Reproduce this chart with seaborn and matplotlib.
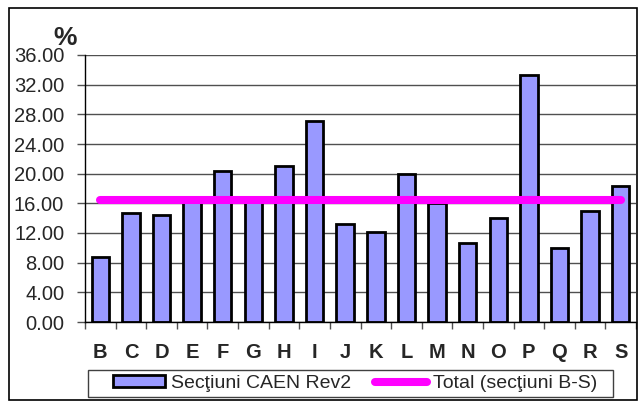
import matplotlib
matplotlib.use("Agg")
import matplotlib.pyplot as plt
import seaborn as sns
import pandas as pd
from matplotlib.patches import Rectangle, Patch
from matplotlib.lines import Line2D
from matplotlib.ticker import FormatStrFormatter

# sectiuni CAEN Rev2 si valoarea totala (%)
sectiuni = ["B", "C", "D", "E", "F", "G", "H", "I", "J", "K", "L", "M", "N", "O", "P", "Q", "R", "S"]
valori = [8.7, 14.7, 14.4, 16.3, 20.4, 16.5, 21.1, 27.1, 13.2, 12.2, 20.0, 16.1, 10.7, 14.0, 33.3, 10.0, 15.0, 18.4]
total = 16.5
yticks = [0, 4, 8, 12, 16, 20, 24, 28, 32, 36]

sns.set_theme(style="white")
plt.rcParams['font.family'] = ['Liberation Sans', 'DejaVu Sans']

df = pd.DataFrame({"sectiune": sectiuni, "valoare": valori})

fig = plt.figure(figsize=(6.38, 4.03), dpi=100)
W, H = 638, 403
ax = fig.add_axes([85 / W, 1 - 322 / H, (636 - 85) / W, (322 - 55) / H])

ax.set_axisbelow(True)
ax.yaxis.grid(True, color='#505050', linewidth=1)
sns.barplot(data=df, x="sectiune", y="valoare", color='#9999FF', saturation=1,
            edgecolor='black', linewidth=2, width=0.57, ax=ax)
ax.plot([0, len(sectiuni) - 1], [total, total], color='#FF00FF', linewidth=5.8,
        solid_capstyle='round', zorder=5)

ax.set_ylim(0, 36)
ax.set_xlim(-0.5, len(sectiuni) - 0.5)
ax.set_yticks(yticks)
ax.yaxis.set_major_formatter(FormatStrFormatter('%.2f'))
ax.set_xlabel('')
ax.set_ylabel('')
for s in ['top', 'right']:
    ax.spines[s].set_visible(False)
for s in ['left', 'bottom']:
    ax.spines[s].set_color('black')
    ax.spines[s].set_linewidth(1)

ax.tick_params(axis='y', left=True, length=6, width=1, color='#505050', labelsize=14.5, pad=9)
ax.set_xticks(range(len(sectiuni)))
ax.set_xticklabels(sectiuni, fontsize=14.5, fontweight='bold')
ax.tick_params(axis='x', bottom=False, pad=9)
# tick-uri intre categorii
ax.set_xticks([i - 0.5 for i in range(len(sectiuni) + 1)], minor=True)
ax.tick_params(axis='x', which='minor', bottom=True, length=5, width=1, color='#505050')

fig.text(53 / W, 1 - 45 / H, '%', fontsize=19, fontweight='bold', ha='left', va='baseline')

handles = [Patch(facecolor='#9999FF', edgecolor='black', linewidth=2, label='Secţiuni CAEN Rev2'),
           Line2D([0], [0], color='#FF00FF', linewidth=5.8, solid_capstyle='round',
                  label='Total (secţiuni B-S)')]
leg = fig.legend(handles=handles, loc='center', bbox_to_anchor=(355 / W, 1 - 383.5 / H),
                 ncol=2, fontsize=14, frameon=False, handlelength=2.7,
                 handleheight=0.55, borderpad=0.15, columnspacing=1.2, handletextpad=0.3)
# chenarul legendei
fig.patches.append(Rectangle((88 / W, 1 - 397 / H), (613 - 88) / W, (397 - 370) / H,
                             transform=fig.transFigure, fill=False, edgecolor='#404040',
                             linewidth=1))

fig.patches.append(Rectangle((9 / W, 1 - 400 / H), (637 - 9) / W, (400 - 8) / H,
                             transform=fig.transFigure, fill=False, edgecolor='black',
                             linewidth=1.2))

fig.savefig('out.png', dpi=100)
